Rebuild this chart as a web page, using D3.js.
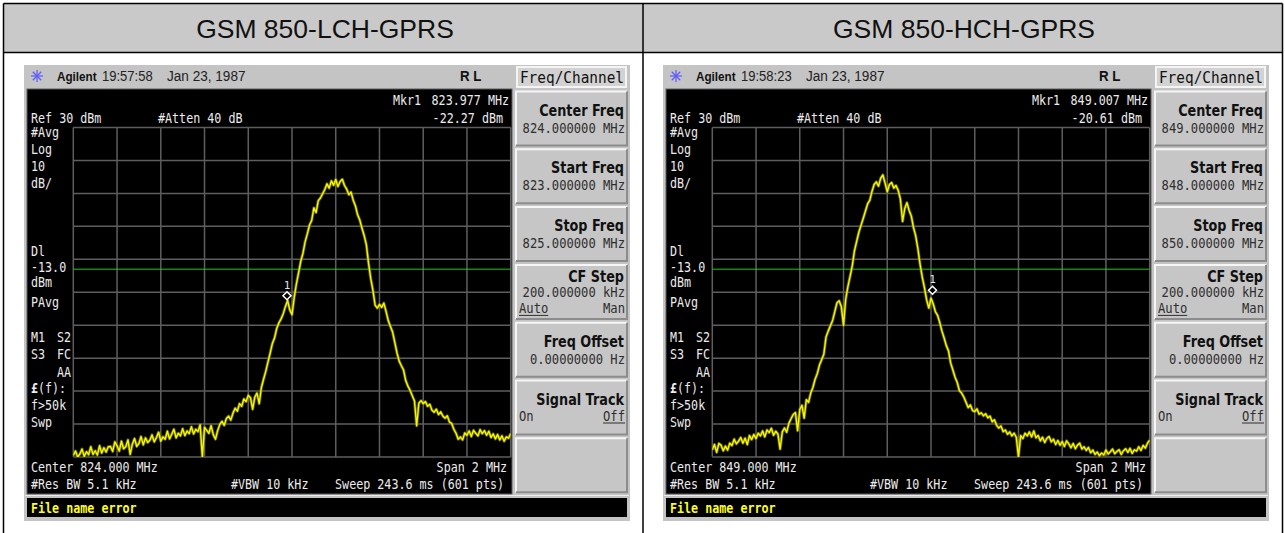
<!DOCTYPE html>
<html>
<head>
<meta charset="utf-8">
<script src="https://cdn.jsdelivr.net/npm/d3@7"></script>
<style>
  body { margin: 0; background: #fff; }
  svg { display: block; }
</style>
</head>
<body>
<div id="chart"></div>
<script>
// ---- data ----
var titles = ["GSM 850-LCH-GPRS", "GSM 850-HCH-GPRS"];
var timeStamps = ["19:57:58", "19:58:23"];
var dateStamp = "Jan 23, 1987";
var centerFreqs = [824.0, 849.0];        // MHz
var spanMHz = 2;
var stepMHz = 0.01;                       // spacing of the stored trace points
var refLevel = 30, dbPerDiv = 10, numDivs = 10;
var displayLine = -13.0;
var markerFreqs = [823.977, 849.007];
var markerLevels = [-22.27, -20.61];
var markerFreqText = ["823.977 MHz", "849.007 MHz"];
var markerLevelText = ["-22.27 dBm", "-20.61 dBm"];
var centerText = ["Center 824.000 MHz", "Center 849.000 MHz"];

var softkeyLabels = ["Center Freq", "Start Freq", "Stop Freq", "CF Step", "Freq Offset", "Signal Track", ""];
var softkeyValuesLCH = ["824.000000 MHz", "823.000000 MHz", "825.000000 MHz", "200.000000 kHz", "0.00000000  Hz", "", ""];
var softkeyValuesHCH = ["849.000000 MHz", "848.000000 MHz", "850.000000 MHz", "200.000000 kHz", "0.00000000  Hz", "", ""];

var sideLabels = ["#Avg", "Log", "10", "dB/", "Dl", "-13.0", "dBm", "PAvg", "M1", "S3", "f>50k", "Swp"];

// trace levels in dBm, one every 10 kHz from start to stop freq
var traceLCH = [
  -69.5,-68.2,-70.0,-69.1,-67.6,-69.8,-68.4,-69.3,-66.9,-69.2,
  -68.1,-69.4,-66.6,-68.8,-67.2,-68.5,-66.9,-66.8,-68.3,-65.4,
  -66.6,-68.2,-65.2,-67.5,-66.9,-64.8,-69.2,-66.1,-64.4,-66.8,
  -65.9,-63.8,-66.3,-64.2,-65.6,-64.9,-63.3,-65.4,-64.1,-62.5,
  -65.2,-63.9,-64.6,-62.2,-64.5,-63.1,-61.6,-64.2,-62.8,-63.6,
  -61.4,-63.5,-62.1,-62.9,-60.8,-63.0,-61.6,-62.3,-60.2,-70.0,
  -61.0,-61.9,-62.8,-60.5,-63.2,-64.6,-62.0,-60.1,-59.2,-60.4,
  -58.3,-57.6,-58.8,-56.7,-55.2,-56.1,-53.8,-54.6,-52.4,-53.2,
  -51.3,-52.0,-55.5,-51.8,-50.6,-53.8,-48.9,-46.4,-44.0,-41.2,
  -38.5,-35.6,-33.9,-31.0,-29.3,-28.1,-26.5,-24.3,-22.5,-25.4,
  -26.8,-21.6,-17.5,-14.1,-10.6,-8.2,-4.7,-2.3,0.4,1.8,
  5.6,4.2,7.8,8.6,9.9,11.2,12.9,11.6,13.8,12.5,
  14.2,12.1,13.6,14.3,12.4,11.3,9.6,10.4,7.9,6.2,
  3.5,1.9,-0.6,-2.8,-5.6,-11.2,-15.8,-19.4,-23.9,-24.8,
  -23.7,-24.6,-23.3,-25.8,-28.6,-30.4,-32.1,-35.2,-38.4,-40.9,
  -42.3,-43.6,-46.8,-48.5,-49.8,-51.4,-53.0,-60.5,-53.7,-52.9,
  -53.8,-53.2,-54.6,-54.0,-55.8,-56.4,-55.5,-57.1,-56.3,-57.6,
  -58.2,-57.5,-59.4,-59.8,-61.6,-62.8,-64.6,-63.9,-64.8,-62.7,
  -63.4,-62.1,-63.8,-61.9,-62.8,-63.6,-61.7,-62.9,-62.0,-63.4,
  -62.2,-64.1,-63.0,-64.5,-63.2,-64.8,-63.6,-65.2,-63.9,-64.3,
  -62.9
];
var traceHCH = [
  -67.8,-66.2,-68.6,-65.9,-66.4,-68.1,-66.7,-67.9,-65.8,-66.5,
  -64.6,-66.0,-65.2,-64.1,-65.8,-64.3,-66.2,-63.5,-64.7,-63.2,
  -64.4,-62.8,-63.6,-62.1,-63.9,-61.8,-62.6,-61.3,-63.4,-62.2,
  -63.0,-67.6,-62.4,-61.2,-62.5,-59.8,-58.4,-57.1,-56.5,-62.0,
  -55.6,-54.3,-58.2,-52.6,-53.4,-50.6,-48.9,-46.4,-44.7,-42.1,
  -40.5,-38.8,-33.6,-31.8,-30.2,-28.6,-25.9,-23.2,-22.6,-24.4,
  -30.0,-22.1,-18.3,-15.2,-12.0,-7.4,-4.6,-1.8,0.3,2.4,
  4.6,6.8,7.9,10.6,12.7,13.5,12.2,14.6,15.6,13.1,
  10.5,12.7,13.3,11.6,12.4,10.9,8.3,1.5,5.4,7.2,
  4.8,3.1,-0.4,-2.9,-6.8,-11.5,-15.4,-18.6,-22.3,-24.8,
  -21.8,-23.5,-25.9,-27.0,-29.2,-31.8,-33.9,-36.2,-37.8,-41.5,
  -43.6,-45.8,-47.4,-49.9,-50.6,-51.8,-53.4,-55.0,-54.2,-55.9,
  -56.2,-55.4,-57.0,-56.6,-57.5,-56.9,-58.1,-57.6,-59.3,-58.7,
  -60.4,-61.2,-60.6,-62.3,-61.8,-63.1,-62.4,-63.6,-62.8,-64.0,
  -70.0,-63.5,-64.4,-62.8,-63.6,-62.4,-63.9,-62.1,-64.2,-63.5,
  -65.1,-64.0,-65.6,-64.3,-63.8,-65.4,-64.6,-66.2,-65.0,-66.4,
  -65.3,-66.8,-65.1,-66.0,-67.2,-65.9,-67.5,-66.4,-65.8,-67.6,
  -66.9,-68.0,-67.1,-68.7,-67.9,-69.2,-68.5,-69.6,-68.8,-69.4,
  -67.9,-69.1,-68.4,-67.6,-69.0,-68.3,-67.8,-69.2,-68.1,-67.5,
  -68.6,-67.4,-68.9,-67.8,-68.2,-66.9,-68.0,-66.5,-67.3,-65.8,
  -64.9
];

// ---- drawing ----
var W = 1285, H = 533;
var svg = d3.select("#chart").append("svg").attr("width", W).attr("height", H);
svg.append("rect").attr("width", W).attr("height", H).attr("fill", "#fff");

// text helper, squeezes glyphs so the narrow instrument font is imitated
function txt(g, x, y, s, o) {
  o = o || {};
  var t = g.append("text")
    .attr("x", x).attr("y", y)
    .attr("font-family", o.family || "'DejaVu Sans Mono', monospace")
    .attr("font-size", o.size || 14)
    .attr("font-weight", o.weight || "normal")
    .attr("fill", o.fill || "#ececec")
    .attr("text-anchor", o.anchor || "start")
    .text(s);
  var sq = o.squeeze === undefined ? 0.835 : o.squeeze;
  if (sq !== 1 && s.length) {
    var n = t.node().getComputedTextLength();
    t.attr("textLength", n * sq).attr("lengthAdjust", "spacingAndGlyphs");
  }
  return t;
}

// table
svg.append("rect").attr("x", 3.5).attr("y", 3.5).attr("width", 1279).attr("height", 49).attr("fill", "#c9c9c9");
var tbl = svg.append("g").attr("stroke", "#000").attr("stroke-width", 1.5);
tbl.append("line").attr("x1", 3.5).attr("x2", 1282.5).attr("y1", 3.5).attr("y2", 3.5);
tbl.append("line").attr("x1", 3.5).attr("x2", 1282.5).attr("y1", 52.5).attr("y2", 52.5);
[3.5, 643, 1282.5].forEach(function(x) {
  tbl.append("line").attr("x1", x).attr("x2", x).attr("y1", 3.5).attr("y2", H);
});
[325, 964].forEach(function(cx, i) {
  svg.append("text").attr("x", cx).attr("y", 37.5).attr("text-anchor", "middle")
    .attr("font-family", "'Liberation Sans', Arial, sans-serif").attr("font-size", 26.5)
    .attr("fill", "#111").text(titles[i]);
});

function drawAnalyzer(ox, k, trace, keyValues) {
  var g = svg.append("g").attr("transform", "translate(" + ox + ",0)");
  var start = centerFreqs[k] - spanMHz / 2, stop = centerFreqs[k] + spanMHz / 2;

  // instrument frame
  g.append("rect").attr("x", 24).attr("y", 65).attr("width", 606).attr("height", 456).attr("fill", "#c4c4c4");

  // title bar
  var ic = g.append("g").attr("stroke", "#5a5aff").attr("stroke-width", 1.2);
  d3.range(8).forEach(function(i) {
    var a = i * Math.PI / 4;
    ic.append("line").attr("x1", 37).attr("y1", 76).attr("x2", 37 + 6 * Math.cos(a)).attr("y2", 76 + 6 * Math.sin(a));
  });
  txt(g, 57, 81, "Agilent", { family: "'Liberation Sans', Arial, sans-serif", size: 13, weight: "bold", fill: "#111", squeeze: 0.9 });
  txt(g, 102, 81, timeStamps[k], { family: "'Liberation Sans', Arial, sans-serif", size: 14, fill: "#222", squeeze: 0.93 });
  txt(g, 167, 81, dateStamp, { family: "'Liberation Sans', Arial, sans-serif", size: 14, fill: "#222", squeeze: 0.97 });
  txt(g, 460, 81, "R L", { family: "'Liberation Sans', Arial, sans-serif", size: 14, weight: "bold", fill: "#111", squeeze: 0.95 });

  // menu title box
  g.append("rect").attr("x", 517).attr("y", 67).attr("width", 109).attr("height", 20)
    .attr("fill", "#d2d2d2").attr("stroke", "#f4f4f4").attr("stroke-width", 2);
  txt(g, 624, 83, "Freq/Channel", { size: 15, fill: "#111", anchor: "end", squeeze: 0.96 });

  // screen
  g.append("rect").attr("x", 27).attr("y", 89).attr("width", 485).attr("height", 405)
    .attr("fill", "#000").attr("stroke", "#5c5c5c");

  var x = d3.scaleLinear().domain([start, stop]).range([73.3, 510.7]);
  var y = d3.scaleLinear().domain([refLevel - numDivs * dbPerDiv, refLevel]).range([457, 127.5]);

  var grid = g.append("g").attr("stroke", "#5e5e5e").attr("stroke-width", 1.5);
  d3.range(numDivs + 1).forEach(function(i) {
    var fx = x(start + i * spanMHz / numDivs);
    grid.append("line").attr("x1", fx).attr("x2", fx).attr("y1", y.range()[1]).attr("y2", y.range()[0]);
    var ly = y(refLevel - i * dbPerDiv);
    grid.append("line").attr("x1", x.range()[0]).attr("x2", x.range()[1]).attr("y1", ly).attr("y2", ly);
  });

  g.append("line").attr("x1", x.range()[0]).attr("x2", x.range()[1])
    .attr("y1", y(displayLine)).attr("y2", y(displayLine))
    .attr("stroke", "#22c822").attr("stroke-width", 1);

  g.append("clipPath").attr("id", "clip" + k).append("rect")
    .attr("x", x.range()[0]).attr("y", y.range()[1])
    .attr("width", x.range()[1] - x.range()[0]).attr("height", y.range()[0] - y.range()[1]);

  var line = d3.line()
    .x(function(d, i) { return x(start + i * stepMHz); })
    .y(function(d) { return y(d); });
  var tr = g.append("g").attr("clip-path", "url(#clip" + k + ")");
  // dim band under the trace, like the dense 601-point sweep
  tr.append("path").datum(trace).attr("d", line).attr("fill", "none")
    .attr("stroke", "#8f8f00").attr("stroke-width", 3).attr("stroke-linejoin", "round").attr("opacity", 0.7);
  tr.append("path").datum(trace).attr("d", line).attr("fill", "none")
    .attr("stroke", "#f6f600").attr("stroke-width", 1.4).attr("stroke-linejoin", "round");

  // marker
  var mx = x(markerFreqs[k]), my = y(markerLevels[k]) - 4;
  g.append("path").attr("d", "M" + mx + "," + (my - 4) + "L" + (mx + 4) + "," + my + "L" + mx + "," + (my + 4) + "L" + (mx - 4) + "," + my + "Z")
    .attr("fill", "#000").attr("stroke", "#fff").attr("stroke-width", 1.5);
  txt(g, mx, my - 7, "1", { size: 11, anchor: "middle", fill: "#e0e0e0", squeeze: 1 });

  // screen annotations
  txt(g, 393, 105, "Mkr1");
  txt(g, 509, 105, markerFreqText[k], { anchor: "end" });
  txt(g, 503, 123, markerLevelText[k], { anchor: "end" });
  txt(g, 31, 123, "Ref 30 dBm");
  txt(g, 158, 123, "#Atten 40 dB");
  var sideY = [137, 154, 171, 188, 256, 272, 287, 307, 342, 359, 410, 427];
  sideLabels.forEach(function(s, i) { txt(g, 31, sideY[i], s); });
  txt(g, 57, 342, "S2");
  txt(g, 57, 359, "FC");
  txt(g, 57, 377, "AA");
  var lf = txt(g, 31, 393, "", { squeeze: 1 });
  lf.append("tspan").attr("font-weight", "bold").text("\u00a3");
  lf.append("tspan").text("(f):");
  lf.attr("textLength", 35).attr("lengthAdjust", "spacingAndGlyphs");

  txt(g, 31, 472, centerText[k]);
  txt(g, 31, 489, "#Res BW 5.1 kHz");
  txt(g, 231, 489, "#VBW 10 kHz");
  txt(g, 507, 472, "Span 2 MHz", { anchor: "end" });
  txt(g, 504, 489, "Sweep 243.6 ms (601 pts)", { anchor: "end" });

  // status line
  g.append("line").attr("x1", 25).attr("x2", 629).attr("y1", 495.5).attr("y2", 495.5).attr("stroke", "#ececec");
  g.append("rect").attr("x", 27).attr("y", 498).attr("width", 600).attr("height", 19).attr("fill", "#000");
  txt(g, 31, 513, "File name error", { weight: "bold", fill: "#ffff1a" });

  // softkeys
  softkeyLabels.forEach(function(lab, i) {
    var top = 91.5 + i * 57.8, kx = 516, kw = 111, kh = 54;
    var kg = g.append("g");
    kg.append("rect").attr("x", kx).attr("y", top).attr("width", kw).attr("height", kh).attr("fill", "#c6c6c6");
    kg.append("path").attr("d", "M" + kx + "," + (top + kh) + "V" + top + "H" + (kx + kw))
      .attr("fill", "none").attr("stroke", "#f6f6f6").attr("stroke-width", 2);
    kg.append("path").attr("d", "M" + kx + "," + (top + kh) + "H" + (kx + kw) + "V" + top)
      .attr("fill", "none").attr("stroke", "#8c8c8c").attr("stroke-width", 2);
    var three = lab === "CF Step";
    if (lab) txt(kg, 624, top + (three ? 17 : 24), lab, { family: "'DejaVu Sans', sans-serif", size: 16, weight: "bold", fill: "#111", anchor: "end", squeeze: 0.8 });
    var v = keyValues[i];
    if (v) txt(kg, 625, top + (three ? 32 : 41), v, { size: 13.5, fill: "#2e2e2e", anchor: "end", squeeze: 0.9 });
    var opts = three ? ["Auto", "Man", 48, 0] : (lab === "Signal Track" ? ["On", "Off", 40, 1] : null);
    if (opts) {
      var ya = top + opts[2];
      var a = txt(kg, 519, ya, opts[0], { size: 13.5, fill: "#2e2e2e", squeeze: 0.9 });
      var b = txt(kg, 625, ya, opts[1], { size: 13.5, fill: "#2e2e2e", anchor: "end", squeeze: 0.9 });
      var u = opts[3] === 0 ? a : b, bb = u.node().getBBox();
      kg.append("line").attr("x1", bb.x).attr("x2", bb.x + bb.width).attr("y1", ya + 2.5).attr("y2", ya + 2.5)
        .attr("stroke", "#2e2e2e").attr("stroke-width", 1);
    }
  });
}

drawAnalyzer(0, 0, traceLCH, softkeyValuesLCH);
drawAnalyzer(639, 1, traceHCH, softkeyValuesHCH);
</script>
</body>
</html>
